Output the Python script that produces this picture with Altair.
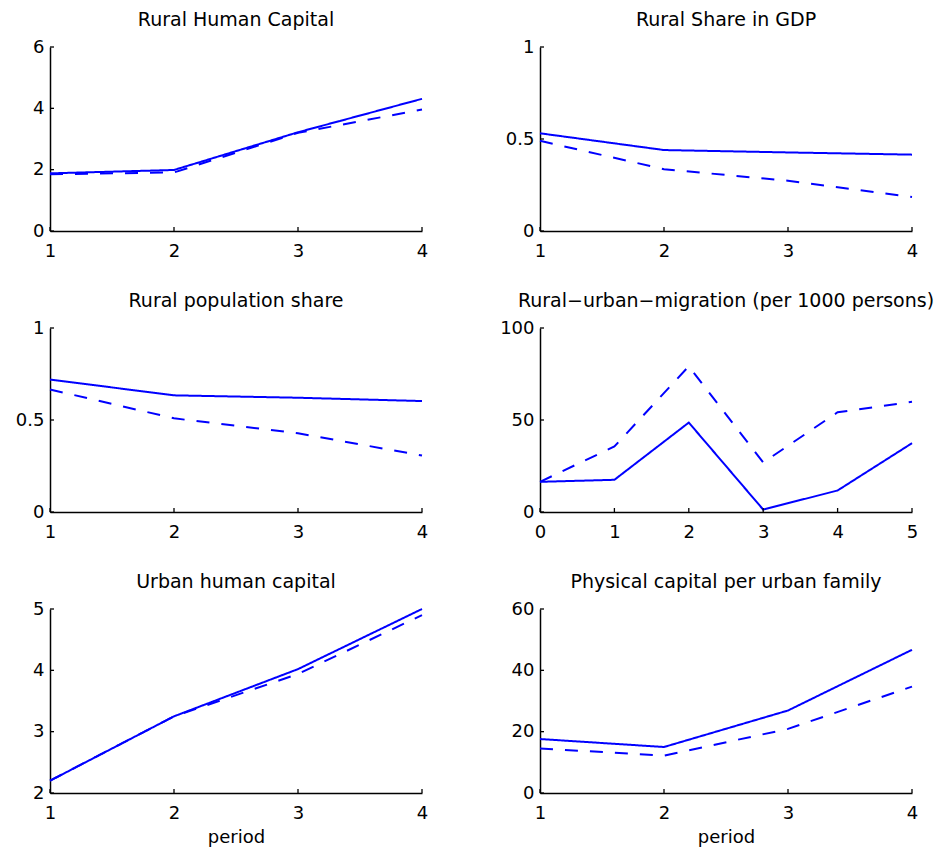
import altair as alt
import pandas as pd

# ---------------- data ----------------
periods = [1, 2, 3, 4]
mig_periods = [0, 1, 2, 3, 4, 5]

rural_hc_solid = [1.88, 1.99, 3.22, 4.31]
rural_hc_dash = [1.85, 1.91, 3.20, 3.96]

rural_gdp_solid = [0.531, 0.440, 0.427, 0.415]
rural_gdp_dash = [0.490, 0.336, 0.273, 0.185]

rural_pop_solid = [0.720, 0.634, 0.621, 0.603]
rural_pop_dash = [0.666, 0.509, 0.428, 0.307]

migration_solid = [16.4, 17.5, 48.6, 1.3, 11.7, 37.4]
migration_dash = [16.4, 35.6, 79.2, 26.9, 54.2, 59.9]

urban_hc_solid = [2.20, 3.25, 4.02, 5.00]
urban_hc_dash = [2.20, 3.25, 3.94, 4.90]

phys_cap_solid = [17.6, 15.0, 26.9, 46.7]
phys_cap_dash = [14.5, 12.2, 20.9, 34.7]

titles = [
    "Rural Human Capital",
    "Rural Share in GDP",
    "Rural population share",
    "Rural\u2212urban\u2212migration (per 1000 persons)",
    "Urban human capital",
    "Physical capital per urban family",
]

x_ticks_4 = [1, 2, 3, 4]
x_ticks_mig = [0, 1, 2, 3, 4, 5]
y_ticks = [
    [0, 2, 4, 6],
    [0, 0.5, 1],
    [0, 0.5, 1],
    [0, 50, 100],
    [2, 3, 4, 5],
    [0, 20, 40, 60],
]
y_domains = [[0, 6], [0, 1], [0, 1], [0, 100], [2, 5], [0, 60]]

W, H = 372, 184
BLUE = "#0000ff"
FONT = "DejaVu Sans"


def panel(title, xs, solid, dashed, xdom, xticks, ydom, yticks, xtitle=None):
    n = len(xs)
    df = pd.DataFrame({
        "x": list(xs) + list(xs),
        "y": list(solid) + list(dashed),
        "s": ["solid"] * n + ["dashed"] * n,
    })
    xscale = alt.Scale(domain=xdom, nice=False, zero=False)
    yscale = alt.Scale(domain=ydom, nice=False, zero=False)
    xaxis = alt.Axis(title=xtitle if xtitle else "", values=xticks, format="~f",
                     labelFlush=False, labelOverlap=False)
    yaxis = alt.Axis(title="", values=yticks, format="~f", labelOverlap=False)
    lines = alt.Chart(df).mark_line(strokeWidth=2, color=BLUE).encode(
        x=alt.X("x:Q", scale=xscale, axis=xaxis),
        y=alt.Y("y:Q", scale=yscale, axis=yaxis),
        strokeDash=alt.StrokeDash(
            "s:N",
            scale=alt.Scale(domain=["solid", "dashed"], range=[[1, 0], [13, 12]]),
            legend=None,
        ),
        detail="s:N",
    )
    xt = alt.Chart(pd.DataFrame({"x": xticks})).mark_rule(
        color="black", strokeWidth=1.3
    ).encode(
        x=alt.X("x:Q", scale=xscale, axis=xaxis),
        y=alt.value(H - 4),
        y2=alt.value(H),
    )
    yt = alt.Chart(pd.DataFrame({"y": yticks})).mark_rule(
        color="black", strokeWidth=1.3
    ).encode(
        y=alt.Y("y:Q", scale=yscale, axis=yaxis),
        x=alt.value(0),
        x2=alt.value(4),
    )
    return alt.layer(lines, xt, yt).properties(
        width=W, height=H, title=title
    )


charts = [
    panel(titles[0], periods, rural_hc_solid, rural_hc_dash, [1, 4], x_ticks_4,
          y_domains[0], y_ticks[0]),
    panel(titles[1], periods, rural_gdp_solid, rural_gdp_dash, [1, 4], x_ticks_4,
          y_domains[1], y_ticks[1]),
    panel(titles[2], periods, rural_pop_solid, rural_pop_dash, [1, 4], x_ticks_4,
          y_domains[2], y_ticks[2]),
    panel(titles[3], mig_periods, migration_solid, migration_dash, [0, 5],
          x_ticks_mig, y_domains[3], y_ticks[3]),
    panel(titles[4], periods, urban_hc_solid, urban_hc_dash, [1, 4], x_ticks_4,
          y_domains[4], y_ticks[4], xtitle="period"),
    panel(titles[5], periods, phys_cap_solid, phys_cap_dash, [1, 4], x_ticks_4,
          y_domains[5], y_ticks[5], xtitle="period"),
]

chart = alt.concat(
    *charts, columns=2, spacing={"row": 97, "column": 118}, bounds="flush"
).resolve_scale(
    x="independent", y="independent", strokeDash="independent"
).properties(
    padding={"left": 15, "top": 11, "right": 2, "bottom": 2}
).configure_view(
    stroke=None
).configure_axis(
    domainColor="black",
    domainWidth=1.5,
    ticks=False,
    tickSize=0,
    grid=False,
    labelFont=FONT,
    labelFontSize=18,
    labelColor="black",
    titleFont=FONT,
    titleFontSize=18,
    titleFontWeight="normal",
    titleColor="black",
).configure_axisX(
    labelPadding=11,
    titlePadding=6,
).configure_axisY(
    labelPadding=6,
).configure_title(
    font=FONT,
    fontSize=19,
    fontWeight="normal",
    color="black",
    anchor="middle",
    baseline="alphabetic",
    offset=8,
)

chart.save("out.html", embed_options={"renderer": "svg", "actions": False})
